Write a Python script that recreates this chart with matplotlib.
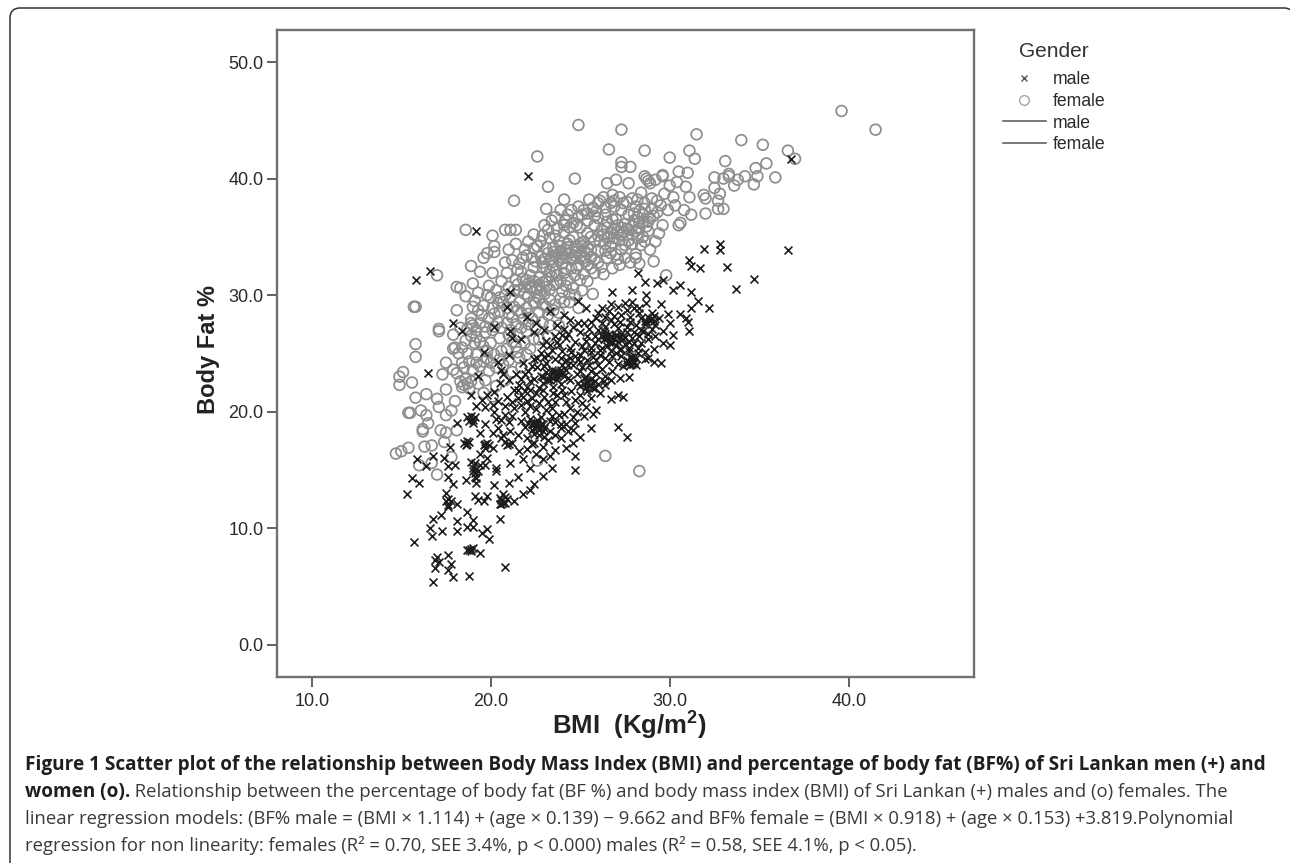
import numpy as np
import matplotlib
matplotlib.use('Agg')
import matplotlib.pyplot as plt
from matplotlib.lines import Line2D
from matplotlib.patches import FancyBboxPatch

plt.rcParams['font.family'] = 'Liberation Sans'
plt.rcParams['mathtext.fontset'] = 'custom'
plt.rcParams['mathtext.bf'] = 'Liberation Sans:bold'

# values, (BMI, body fat %)
female_top = [(39.6,45.8),(41.5,44.2),(31.5,43.8),(34.0,43.3),(35.2,42.9),(36.6,42.4),(37.0,41.7),(31.1,42.4),
    (30.0,41.8),(31.4,41.7),(33.1,41.5),(35.4,41.3),(34.8,40.9),(33.3,40.4),(34.2,40.2),(32.5,40.1),(33.0,40.0),
    (33.8,39.9),(34.9,40.2),(35.9,40.1),(33.6,39.4),(34.7,39.5),(32.5,39.2),(32.8,38.7),(32.7,38.1),(31.9,38.6),
    (32.0,38.3),(32.7,37.4),(33.0,37.4),(32.0,37.0),(31.1,38.4),(31.2,36.9),(30.5,40.6),(31.0,40.5),(29.6,40.2),
    (30.6,36.2),(30.5,36.0),(30.2,38.4),(30.9,39.3),(30.3,37.7),(30.8,37.3),(30.0,39.4),(30.4,39.7),(33.3,40.2),
    (24.9,44.6),(27.3,44.2),(22.6,41.9),(26.6,42.5),(28.6,42.4),(24.7,40.0),(23.2,39.3),(21.3,38.1),(27.3,41.4),
    (27.3,41.0),(27.8,41.0),(26.5,39.6),(27.0,39.9),(27.7,39.6),(28.7,40.0),(28.8,39.8),(28.6,40.2),(29.6,40.3),
    (28.9,39.6),(29.2,39.9),(24.1,38.2),(23.1,37.4),(23.9,37.3),(23.4,36.4),(24.5,37.3),(24.9,37.6),(25.5,38.2),
    (26.0,37.9),(26.8,38.6),(25.2,37.3),(25.8,36.8),(29.7,38.7),(29.0,38.3),(29.5,37.7),(29.9,37.3),(28.6,37.4),
    (29.1,36.8),(28.4,38.8),(27.9,38.3),(29.6,36.0),(29.4,35.3),(28.8,35.5),(28.4,34.3),(28.9,33.9),(29.2,34.6),
    (29.1,32.9),(29.8,31.7),(28.3,32.7),(27.8,32.8)]
female_left = [(15.8,25.8),(15.8,24.7),(15.1,23.4),(14.9,23.0),(14.9,22.3),(15.6,22.5),(17.1,26.9),(17.9,26.6),
    (17.5,24.2),(17.3,23.2),(18.4,24.2),(15.8,21.2),(16.4,21.5),(17.0,21.1),(17.5,21.9),(18.0,20.9),(15.4,19.9),
    (15.5,19.9),(16.1,20.1),(17.1,20.4),(17.8,20.1),(16.4,19.7),(16.5,19.0),(17.5,19.7),(16.2,18.3),(16.2,18.5),
    (17.2,18.4),(18.1,18.4),(17.5,18.2),(14.7,16.4),(15.0,16.6),(15.4,16.9),(16.3,17.0),(16.7,17.1),(17.4,17.4),
    (17.8,16.1),(16.0,15.4),(16.7,15.6),(17.0,14.6),(26.4,16.2),(28.3,14.9),(22.6,15.8),(18.6,35.6),(20.8,35.6),
    (21.4,35.6),(21.1,35.6),(20.1,35.1),(21.0,33.9),(20.2,34.2),(19.8,33.6),(20.2,33.7),(19.6,33.2),(18.9,32.5),
    (19.4,32.0),(20.1,31.9),(20.8,32.8),(17.0,31.7),(18.1,30.7),(18.3,30.6),(19.0,31.0),(19.8,30.0),(15.7,29.0),
    (15.8,29.0),(18.1,28.7),(19.1,29.5),(19.3,28.7),(20.7,29.4),(17.1,27.1),(18.9,27.6),(17.9,25.4),(18.0,25.5),
    (19.2,26.4),(19.7,27.3),(20.2,27.3),(18.3,22.6),(18.5,22.3),(18.6,22.8),(18.4,22.1),(18.7,22.4),(18.8,22.0),
    (18.3,27.2),(18.6,26.1),(19.1,25.9),(19.6,25.6),(20.0,25.9),(20.5,26.3),(18.7,25.0),(19.2,24.9),(19.8,24.6),
    (20.2,24.9),(20.6,25.2),(18.5,23.8),(19.0,23.6),(19.4,23.9),(19.9,23.5),(20.3,23.8),(18.9,22.6),(19.3,22.4),
    (19.7,22.7),(18.6,29.9),(19.0,29.0),(19.3,30.2),(19.6,29.1),(19.9,30.8),(20.0,29.8),(18.9,28.0),(19.5,28.3),
    (19.9,28.0),(20.1,28.9),(19.2,27.0),(19.7,26.8),(20.1,27.0),(20.4,27.7)]
female_core = [(20.3,30.4),(20.6,31.2),(21.0,30.7),(21.4,31.3),(20.9,31.9),(21.5,32.2),(21.2,33.0),(21.8,33.2),
    (21.7,32.0),(22.0,31.3),(21.6,30.4),(21.1,29.8),(21.6,29.4),(22.1,29.9),(22.3,30.7),(20.5,28.6),(21.0,28.4),
    (21.5,28.7),(22.0,28.9),(22.5,29.3),(20.9,27.6),(21.4,27.5),(21.8,27.9),(22.3,28.0),(22.7,28.5),(21.0,26.6),
    (21.5,26.6),(22.0,26.9),(22.5,27.2),(20.9,25.4),(21.4,25.6),(21.9,25.9),(22.4,26.2),(21.0,24.4),(21.6,24.6),
    (22.0,24.9),(22.2,31.7),(22.7,31.5),(22.4,32.4),(22.9,32.4),(23.1,31.2),(22.8,30.4),(23.3,30.5),(23.3,29.6),
    (22.9,29.2),(23.6,29.2),(23.2,28.3),(23.8,28.5),(22.3,33.2),(22.8,33.3),(23.3,33.0),(23.6,32.0),(23.7,31.0),
    (24.0,30.3),(24.1,29.4),(22.6,34.2),(23.1,34.0),(23.5,33.7),(24.0,33.2),(24.2,32.3),(24.3,31.3),(24.6,30.6),
    (22.4,35.2),(22.9,35.1),(23.3,34.9),(23.8,34.6),(24.3,34.1),(24.7,33.4),(24.8,32.3),(25.0,31.3),(23.0,36.0),
    (23.7,35.7),(24.1,35.4),(24.6,35.0),(25.0,34.4),(25.4,33.6),(25.4,32.6),(24.2,36.4),(24.6,36.2),(25.0,35.8),
    (25.4,35.3),(25.8,34.7),(26.0,33.8),(26.0,32.8),(26.5,33.2),(24.9,36.7),(25.4,36.4),(25.8,36.0),(26.2,35.6),
    (26.5,34.9),(26.7,34.2),(27.0,33.5),(26.4,36.9),(26.8,36.5),(27.1,36.0),(27.4,35.4),(27.7,34.7),(27.3,33.9),
    (26.9,37.6),(27.3,37.3),(27.7,36.9),(28.0,36.4),(28.3,35.7),(28.1,33.5),(27.6,38.0),(28.1,37.6),(28.5,36.9),
    (28.8,36.3),(26.3,38.4),(26.7,37.9),(25.7,37.5),(24.2,33.9),(24.5,33.2),(24.0,32.7),(23.5,32.5),(23.9,34.2),
    (24.4,34.7),(24.8,34.2),(25.2,33.2),(25.2,34.6),(24.7,31.7),(25.4,31.2),(25.8,31.9),(26.3,31.8),(26.8,32.3),
    (27.2,32.6),(25.6,35.0),(26.0,35.1),(26.4,34.4),(26.9,34.9),(27.3,35.2),(27.6,35.7),(27.0,36.5),(26.5,36.3),
    (26.0,36.6),(28.5,35.0),(28.6,34.6),(27.9,35.2),(28.2,36.7),(25.1,30.4),(25.7,30.1),(24.4,29.4),(24.9,28.9),
    (22.1,34.6),(21.4,34.4),(21.9,33.9),(22.5,32.9),(23.0,33.1),(23.2,33.6),(23.4,31.6),(22.7,30.9),(22.2,30.6),
    (21.9,30.1),(22.6,29.9),(23.0,30.1),(21.3,29.0),(21.7,28.5),(22.1,28.4),(20.8,30.0),(20.5,29.8),(22.9,27.7),
    (23.3,27.4),(22.7,26.2),(23.2,26.4),(23.8,27.4),(21.2,26.0),(20.7,24.0),(21.2,23.4),(20.8,22.7),(21.7,23.8),
    (20.3,22.2),(19.6,21.6),(20.1,21.3)]
# tight gray clumps of the middle of the cloud
female_dense = [(23.4,33.1),(23.6,33.4),(23.8,33.0),(24.0,33.5),(24.2,33.2),(24.4,33.6),(24.6,33.1),(24.8,33.7),
    (25.0,33.3),(25.2,33.8),(25.4,34.1),(25.6,33.9),(25.1,34.2),(24.7,34.0),(24.3,34.4),(23.9,33.8),(23.5,34.1),
    (22.9,32.8),(23.1,32.3),(23.3,32.0),(23.7,31.7),(24.1,31.9),(24.5,32.3),(24.9,32.6),(25.3,32.9),(25.6,33.2),
    (26.9,35.7),(27.1,35.4),(27.3,35.8),(27.5,36.1),(27.7,35.6),(27.9,35.9),(28.1,35.5),(28.3,36.2),(26.7,35.3),
    (26.5,35.8),(26.3,35.2),(26.1,34.6),(26.8,34.5),(27.2,34.7),(27.5,34.3),(27.9,34.4),(28.2,34.9),(28.5,36.3),
    (28.7,35.9),(28.9,36.6),(28.6,37.9),(28.2,38.2),(27.4,37.9),(27.2,38.4),(26.9,38.1),(26.1,38.1),(25.9,37.2),
    (25.4,37.0),(24.8,36.0),(24.4,35.8),(24.1,36.0),(23.6,35.1),(23.2,35.6),(22.8,34.6),(22.4,34.0),(22.0,33.4),
    (21.6,32.7),(21.8,31.4),(21.3,30.4),(21.5,30.9),(21.9,30.7),(22.1,31.0),(22.4,31.2),(22.6,30.5),(22.9,31.1),
    (23.1,30.7),(23.5,30.9),(23.9,31.2),(24.2,30.8),(24.4,30.1),(24.7,30.0),(25.2,31.8),(26.4,33.8),(26.7,33.6),
    (27.1,33.1),(27.5,33.2),(28.1,33.2),(25.8,33.1),(26.2,32.4),(25.6,32.3),(22.4,29.4),(22.7,29.7),(23.1,29.0),
    (23.5,28.7),(23.9,29.7),(21.2,28.1),(20.9,28.9),(20.4,29.3),(20.2,28.4),(20.6,27.2),(21.1,27.0),(21.7,27.2),
    (22.1,27.5),(21.5,25.1),(22.2,25.4),(19.4,27.6),(19.0,27.4),(18.7,27.1),(18.9,26.5),(19.4,26.0),(19.8,25.2),
    (18.2,25.0),(18.4,25.5),(18.8,24.3),(19.2,24.2),(19.6,24.3),(20.0,24.2),(20.5,24.5),(17.9,23.6),(18.1,23.3),
    (29.0,37.4),(29.3,38.1),(28.3,37.2),(28.0,37.0),(26.4,37.5),(25.1,36.9),(24.3,36.9),(23.6,36.7),(29.3,37.1)]

male_low = [(16.5,23.3),(15.3,12.9),(15.6,14.3),(16.0,13.9),(15.9,15.9),(17.4,16.0),(16.4,15.3),(17.6,15.3),(18.0,15.4),
    (17.6,14.4),(17.9,13.8),(18.6,14.1),(17.5,13.0),(17.5,12.3),(17.6,11.8),(18.1,12.1),(16.8,10.8),(16.6,10.0),
    (17.2,11.1),(16.7,9.3),(17.3,9.8),(18.1,10.6),(18.1,9.8),(18.7,11.4),(18.7,10.1),(19.0,10.7),(19.0,10.1),
    (19.5,9.6),(19.8,9.9),(19.9,9.1),(20.5,10.8),(15.7,8.8),(16.9,7.3),(17.1,7.1),(16.9,6.6),(17.6,7.7),(17.8,6.9),
    (17.6,6.4),(17.9,5.8),(16.8,5.4),(18.8,5.9),(18.8,8.1),(19.0,8.3),(19.4,7.9),(20.8,6.7),(18.9,8.0),
    (18.5,17.3),(18.7,17.2),(18.8,17.4),(19.7,17.2),(19.9,17.1),(20.1,16.9),(20.6,17.7),(20.9,17.1),(21.2,17.3),
    (19.4,16.4),(19.8,16.0),(18.9,15.7),(19.0,15.2),(19.1,14.7),(19.2,14.3),(19.7,15.4),(20.3,15.2),(20.3,14.9),
    (21.1,15.6),(22.2,15.2),(21.5,14.4),(21.0,13.9),(20.2,13.7),(19.1,12.8),(19.3,12.4),(19.8,12.8),(19.6,12.3),
    (20.6,12.4),(20.7,12.2),(20.8,12.7),(21.3,12.3),(21.8,12.9),(22.4,13.8),(22.2,13.3),(22.9,14.5),(19.0,19.3),
    (18.7,19.5),(19.7,18.9),(19.2,20.5),(20.4,18.6),(20.6,19.3),(21.0,19.1),(24.7,16.2),(24.2,16.9),(24.6,17.3),
    (25.0,17.8),(24.7,15.0),(25.6,18.6),(27.1,18.7),(27.6,17.8),(25.9,20.1),(24.7,19.0),(24.8,20.0),(27.1,21.4),
    (27.4,21.3),(26.4,22.3),(21.8,15.9),(22.0,16.8),(22.5,16.4),(21.6,16.6),(22.4,17.3),(22.9,15.9),(23.3,16.2),
    (22.9,17.0),(23.4,15.2),(23.6,16.7)]
male_high = [(22.1,40.2),(21.1,30.3),(36.8,41.7),(36.6,33.9),(32.8,34.4),(32.8,33.9),(31.9,34.0),(31.1,33.0),(31.2,32.5),
    (31.7,32.3),(33.2,32.4),(34.7,31.4),(33.7,30.5),(32.2,28.9),(31.6,29.5),(31.2,28.9),(31.0,27.7),(30.0,27.6),
    (29.6,26.9),(28.2,31.9),(28.6,31.1),(29.3,31.0),(29.6,31.3),(30.6,30.9),(30.2,30.4),(31.2,30.3),(27.9,30.4),
    (28.7,30.0),(28.7,29.3),(29.5,29.2),(26.8,30.3),(23.3,28.6),(22.5,27.6),(19.2,35.5),(16.6,32.1),(15.8,31.3),
    (17.9,27.6),(18.4,26.9),(21.1,26.9),(21.2,26.3),(29.1,25.4),(29.1,24.3),(28.0,24.3),(31.1,26.9),(30.6,28.4),
    (30.2,26.6),(30.9,28.0),(29.9,28.4),(29.4,28.0),(29.0,28.5),(27.9,29.4),(28.3,28.9),(24.1,21.4),(22.3,21.2)]
male_core = [(19.7,20.4),(20.2,20.0),(20.8,20.5),(21.3,20.3),(20.9,21.3),(21.5,21.2),(21.9,20.0),(21.7,19.2),(22.2,19.4),
    (22.6,19.0),(22.3,18.4),(22.7,18.0),(23.0,18.6),(23.0,17.8),(23.3,18.3),(22.4,18.9),(22.8,19.5),(23.3,19.2),
    (23.6,18.0),(23.9,18.6),(23.4,20.3),(23.8,19.7),(24.2,18.9),(24.1,19.8),(23.6,20.8),(24.2,20.8),(24.7,21.0),
    (22.0,22.1),(22.5,21.6),(23.0,21.3),(23.5,21.6),(24.0,21.9),(24.5,21.8),(25.0,21.4),(25.1,20.7),(25.6,21.2),
    (22.4,22.8),(22.9,22.5),(23.3,22.7),(23.7,23.1),(23.4,23.6),(23.8,23.4),(24.1,23.1),(24.4,22.7),(24.9,22.5),
    (25.3,22.1),(25.8,22.0),(26.1,21.6),(25.4,22.7),(25.7,22.5),(25.3,23.0),(25.9,23.2),(26.4,23.1),(26.8,23.5),
    (22.1,23.5),(22.6,23.8),(23.1,24.2),(23.6,24.5),(24.2,24.4),(24.6,24.0),(25.1,23.8),(25.5,24.0),(26.0,24.0),
    (26.6,24.3),(27.1,24.1),(27.6,24.4),(27.9,24.1),(28.1,24.6),(27.4,23.9),(22.8,25.0),(23.4,25.3),(24.0,25.2),
    (24.5,25.1),(25.0,24.9),(25.6,25.1),(26.1,24.9),(26.7,25.2),(27.2,25.3),(27.7,25.2),(28.2,25.5),(28.6,25.1),
    (23.1,26.1),(23.7,26.0),(24.2,26.3),(24.7,26.0),(25.3,26.1),(25.8,25.9),(26.3,26.2),(26.8,26.4),(26.6,26.7),
    (27.0,26.5),(27.4,26.2),(27.9,26.3),(28.3,26.5),(28.8,26.2),(25.0,26.8),(25.5,27.1),(26.0,27.0),(26.4,27.3),
    (27.1,27.2),(27.6,27.3),(28.1,27.4),(28.6,27.5),(28.9,27.9),(29.2,27.4),(29.0,27.1),(24.6,27.3),(25.2,27.6),
    (25.9,28.0),(26.4,28.1),(26.9,28.2),(27.3,28.3),(27.8,28.1),(28.4,28.0),(26.2,28.9),(26.7,29.2),(27.1,29.0),
    (27.5,29.3),(25.3,28.9),(24.9,29.5),(24.1,28.3),(23.7,27.4),(21.9,23.2),(21.4,23.2),(21.0,22.7),(20.5,22.5),
    (20.2,21.7),(19.8,21.4),(22.0,17.7),(21.5,18.0),(21.1,18.3),(20.7,18.0),(20.1,18.2),(19.4,18.2),(21.8,21.3),
    (22.7,20.7),(23.2,20.8),(22.2,20.5),(21.2,19.6),(20.4,20.9),(24.4,20.3),(24.6,19.5),(25.2,19.6),(25.3,20.4),
    (23.5,22.1),(23.9,22.4),(24.3,22.9),(24.8,23.2),(25.0,23.5),(25.6,23.5),(26.2,23.7),(26.3,22.6),(26.7,22.7),
    (27.2,22.9),(27.7,23.0),(26.5,25.6),(26.2,25.5),(27.0,25.7),(27.5,25.8),(28.0,25.9),(28.6,24.5),(24.4,27.9),
    (23.2,24.9),(23.9,24.6),(22.4,24.5),(21.8,24.2),(24.9,24.5),(25.9,24.4),(26.4,24.6),(27.3,24.8),(27.8,24.7),
    (28.4,27.0),(29.2,26.5),(29.6,25.9),(30.0,25.7),(28.8,24.6),(29.5,24.2),(22.8,23.1),(24.0,24.0),(25.2,25.3),
    (25.8,26.5),(26.9,27.5),(27.6,26.8),(28.3,28.5),(29.1,28.2),(22.3,17.2),(23.1,20.1),(23.7,21.4),(21.3,21.9),
    (20.7,23.2),(24.6,18.4),(25.7,19.8),(26.7,21.1)]
# the black clumps, where crosses sit almost on top of each other
male_dense = [(26.5,26.3),(26.7,26.5),(26.9,26.2),(27.0,26.6),(26.6,26.0),(26.8,25.9),(27.1,26.0),(26.4,26.6),(27.2,26.4),
    (27.3,26.7),(26.3,26.9),(26.0,26.2),(26.2,26.5),(27.5,26.4),(27.7,26.0),
    (23.4,23.3),(23.6,23.5),(23.8,23.2),(23.9,23.6),(23.5,22.9),(23.7,22.8),(24.0,23.3),(23.3,23.1),(24.2,23.6),(23.1,23.4),
    (22.9,23.0),(23.2,22.7),(24.3,24.0),(23.0,23.9),
    (25.2,22.4),(25.4,22.5),(25.6,22.8),(25.5,22.2),(25.2,22.9),(25.0,22.2),(25.8,22.6),(25.4,21.8),(25.7,22.0),(26.0,22.4),
    (28.7,27.8),(28.9,27.8),(29.0,28.0),(28.8,28.1),(29.1,27.8),(28.6,27.8),
    (27.7,24.3),(27.9,24.4),(28.0,24.2),(27.8,24.0),(28.1,24.0),(27.6,24.1),(27.9,24.7),
    (22.4,18.6),(22.6,18.7),(22.7,18.4),(22.5,19.0),(22.8,18.9),(22.3,18.9),(22.9,18.3),(22.6,19.3),(22.4,18.1),(22.9,18.9),
    (23.2,17.6),(22.1,19.0),(21.9,18.7),
    (20.5,12.6),(20.6,12.1),(20.8,12.2),(20.7,12.9),(20.5,12.1),(20.9,12.5),
    (19.1,15.6),(19.2,15.1),(19.3,14.9),(19.1,14.4),(19.4,15.4),(19.0,14.9),(19.2,13.9),
    (19.6,17.1),(19.8,17.3),(19.7,16.9),(18.6,17.1),(18.7,17.5),(21.0,17.2),(20.8,17.4),
    (18.8,19.2),(19.0,19.0),(18.9,19.6),(19.1,19.5),(17.6,12.5),(17.6,12.0),(17.8,12.3),(18.9,8.2),(18.7,8.1),(17.0,7.5),
    (21.5,21.9),(21.9,21.8),(22.2,21.9),(21.6,22.3),(22.7,22.0),(22.9,21.9),(21.7,20.6),(21.2,20.8),(22.0,20.9),(22.5,20.2),
    (23.6,19.1),(23.9,18.9),(23.4,19.6),(24.3,18.3),(23.9,17.7),(20.8,19.7),(20.3,19.4),(20.1,20.6),(22.2,22.6),(21.7,22.8),
    (24.4,24.6),(24.7,24.8),(25.0,24.3),(25.4,24.4),(25.7,24.7),(26.1,25.3),(26.8,24.8),(27.0,25.0),(27.3,25.4),(27.7,25.5),
    (28.2,25.0),(28.4,25.9),(28.8,26.7),(28.5,26.9),(28.0,26.8),(27.2,27.7),(27.8,27.7),(26.2,27.6),(25.6,27.7),(26.7,27.9),
    (26.0,28.5),(26.6,28.6),(27.6,28.7),(28.0,28.9),(24.3,26.7),(24.0,26.6),(23.6,26.5),(23.3,25.7),(23.8,25.7),(24.4,25.5),
    (25.1,25.6),(25.6,25.5),(25.4,26.5),(24.9,27.6),(24.1,27.1),(22.9,25.7),(22.6,24.6),(22.3,23.9),(23.0,24.7)]
# crosses lost among the circles on the upper left
male_mixed = [(20.9,29.0),(20.2,27.3),(19.6,25.1),(20.4,24.3),(19.3,23.1),(21.0,24.9),(21.7,26.2),(22.4,26.8),(22.0,28.1),
    (23.0,27.0),(18.9,21.4),(19.5,21.0),(18.1,19.0),(17.7,17.0),(16.8,16.2),(20.6,23.6)]

female_pts = np.array(female_top + female_left + female_core + female_dense)
male_pts = np.array(male_low + male_high + male_core + male_dense + male_mixed)

x_ticks = [10.0, 20.0, 30.0, 40.0]
y_ticks = [0.0, 10.0, 20.0, 30.0, 40.0, 50.0]
legend_labels = ['male', 'female', 'male', 'female']

caption_bold_1 = 'Figure 1 Scatter plot of the relationship between Body Mass Index (BMI) and percentage of body fat (BF%) of Sri Lankan men (+) and'
caption_bold_2 = 'women (o).'
caption_2 = ' Relationship between the percentage of body fat (BF %) and body mass index (BMI) of Sri Lankan (+) males and (o) females. The'
caption_3 = 'linear regression models: (BF% male = (BMI \u00d7 1.114) + (age \u00d7 0.139) \u2212 9.662 and BF% female = (BMI \u00d7 0.918) + (age \u00d7 0.153) +3.819.Polynomial'
caption_4 = 'regression for non linearity: females (R\u00b2 = 0.70, SEE 3.4%, p < 0.000) males (R\u00b2 = 0.58, SEE 4.1%, p < 0.05).'

W, H = 1290, 863
fig = plt.figure(figsize=(W/100, H/100), dpi=100)

# rounded frame, runs off the bottom and right of the image
bg = fig.add_axes([0, 0, 1, 1])
bg.set_xlim(0, W)
bg.set_ylim(H, 0)
bg.axis('off')
bg.add_patch(FancyBboxPatch((18, 16), 1268, 880, boxstyle='round,pad=8,rounding_size=10',
                            fc='white', ec='#333333', lw=1.1))

ax = fig.add_axes([276.7/W, 1-677/H, (974-276.7)/W, (677-30)/H])
ax.scatter(female_pts[:,0], female_pts[:,1], s=60, facecolors='none', edgecolors='#8e8e8e', linewidths=1.25, marker='o')
ax.scatter(male_pts[:,0], male_pts[:,1], s=32, color='#1c1c1c', linewidths=1.2, marker='x')
ax.set_xlim(8.04, 47.0)
ax.set_ylim(-2.77, 52.75)
ax.set_xticks(x_ticks)
ax.set_yticks(y_ticks)
ax.set_xticklabels(['%.1f' % v for v in x_ticks])
ax.set_yticklabels(['%.1f' % v for v in y_ticks])
ax.tick_params(length=7.5, width=1.3, color='#555555', labelsize=13, labelcolor='#2a2a2a')
ax.tick_params(axis='x', pad=4)
ax.tick_params(axis='y', pad=2)
for s in ax.spines.values():
    s.set_color('#707070')
    s.set_linewidth(1.7)

bg.text(629, 726, r'BMI  (Kg/m$\mathbf{^{2}}$)', fontsize=18.5, fontweight='bold', color='#222222', ha='center', va='center')
bg.text(208, 349, 'Body Fat %', fontsize=17, fontweight='bold', color='#222222', rotation=90, ha='center', va='center')

handles = [Line2D([], [], ls='none', marker='x', ms=5, mew=1, color='#555555'),
           Line2D([], [], ls='none', marker='o', ms=7, mew=1, mfc='none', color='#a5a5a5'),
           Line2D([], [], color='#555555', lw=1.1),
           Line2D([], [], color='#555555', lw=1.1)]
leg = bg.legend(handles, legend_labels, title='Gender', loc='upper left', bbox_to_anchor=(1003/W, 1-42/H),
                bbox_transform=fig.transFigure, frameon=False, fontsize=12.7, title_fontsize=15, borderpad=0,
                borderaxespad=0, handlelength=2.43, handletextpad=0.4, labelspacing=0.26, labelcolor='#2a2a2a')
leg.get_title().set_color('#333333')
leg._legend_box.sep = 7.5

# caption
bold_size = 13.65
cap_size = 13.3
cap_col = '#3a3a3a'
bg.text(25, 765, caption_bold_1, family='Open Sans', fontsize=bold_size, fontweight='bold', color='#1f1f1f', va='center')
t = bg.text(25, 792, caption_bold_2, family='Open Sans', fontsize=bold_size, fontweight='bold', color='#1f1f1f', va='center')
bg.annotate(caption_2, xy=(1, 0.5), xycoords=t, family='Open Sans', fontsize=cap_size, color=cap_col, va='center')
bg.text(25, 819, caption_3, family='Open Sans', fontsize=cap_size, color=cap_col, va='center')
bg.text(25, 845, caption_4, family='Open Sans', fontsize=cap_size, color=cap_col, va='center')

fig.savefig('out.png', dpi=100)
